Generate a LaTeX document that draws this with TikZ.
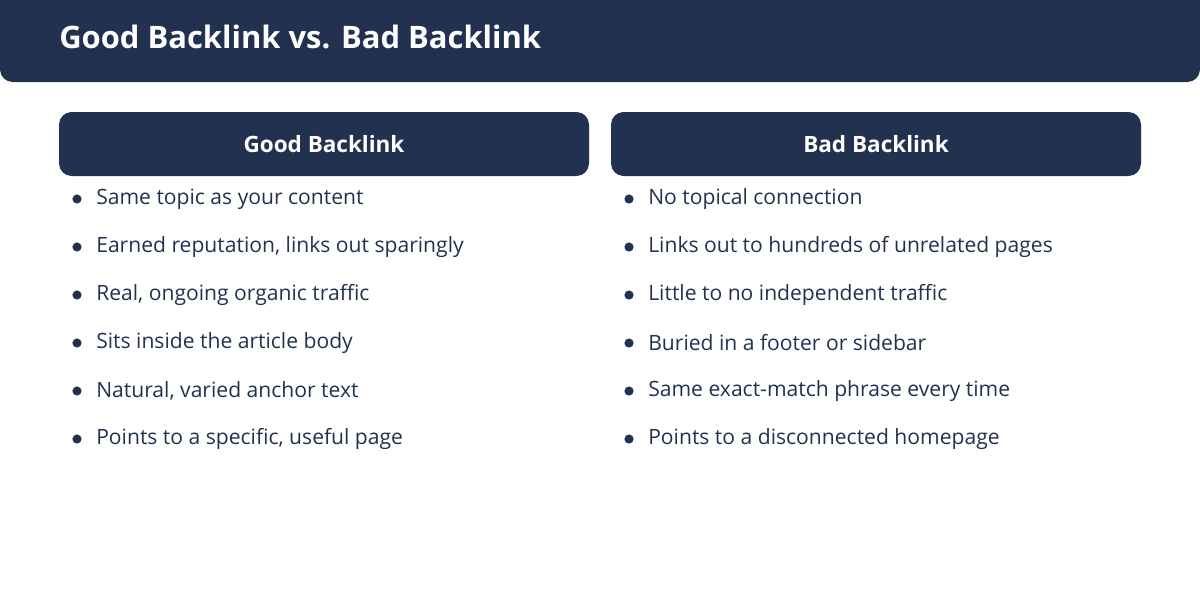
\documentclass[tikz,border=0pt]{standalone}
\usepackage{fontspec}
\setmainfont{Open Sans}
\definecolor{navy}{HTML}{22314F}
\begin{document}
\begin{tikzpicture}[x=0.025cm,y=-0.025cm,
  bar/.style={fill=navy,rounded corners=9},
  head/.style={text=white,font=\fontsize{16}{18}\selectfont\bfseries},
  item/.style={anchor=west,text=navy,inner sep=0pt,font=\fontsize{15}{18}\selectfont},
  dot/.style={circle,fill=navy,inner sep=0pt,minimum size=6.5pt}]
\useasboundingbox (0,0) rectangle (1200,592);
\fill[bar] (0,-20) rectangle (1200,82);
\node[anchor=west,text=white,inner sep=0pt,font=\fontsize{22}{26}\selectfont\bfseries] (title) at (59,37) {Good Backlink vs. Bad Backlink};
% column heads
\fill[bar] (59,112) rectangle (589,176);
\node[head] (goodhead) at (324,144) {Good Backlink};
\fill[bar] (611,112) rectangle (1141,176);
\node[head] (badhead) at (876,144) {Bad Backlink};
% good items
\foreach \t [count=\i] in {Same topic as your content,Earned reputation{,} links out sparingly,Real{,} ongoing organic traffic,Sits inside the article body,Natural{,} varied anchor text,Points to a specific{,} useful page}
{
  \node[dot] (gd\i) at (77,151+48*\i) {};
  \node[item] (gt\i) at (96,151+48*\i) {\t};
}
% bad items
\foreach \t [count=\i] in {No topical connection,Links out to hundreds of unrelated pages,Little to no independent traffic,Buried in a footer or sidebar,Same exact-match phrase every time,Points to a disconnected homepage}
{
  \node[dot] (bd\i) at (629,151+48*\i) {};
  \node[item] (bt\i) at (648,151+48*\i) {\t};
}
\end{tikzpicture}
\end{document}
